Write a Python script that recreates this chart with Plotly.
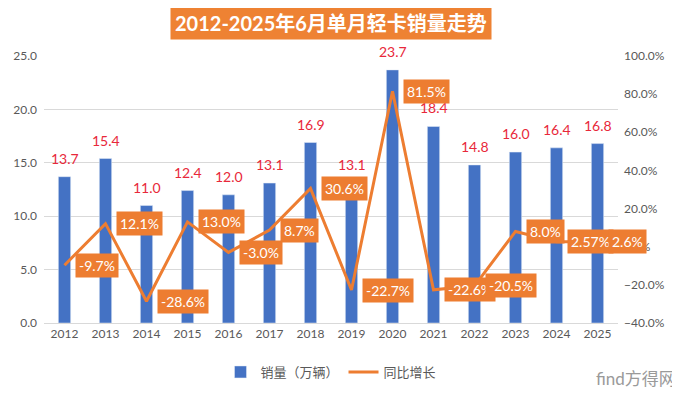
import plotly.graph_objects as go

years = ["2012", "2013", "2014", "2015", "2016", "2017", "2018",
         "2019", "2020", "2021", "2022", "2023", "2024", "2025"]
sales = [13.7, 15.4, 11.0, 12.4, 12.0, 13.1, 16.9, 13.1, 23.7, 18.4, 14.8, 16.0, 16.4, 16.8]
growth = [-9.7, 12.1, -28.6, 13.0, -3.0, 8.7, 30.6, -22.7, 81.5, -22.6, -20.5, 8.0, 2.57, 2.6]
growth_labels = ["-9.7%", "12.1%", "-28.6%", "13.0%", "-3.0%", "8.7%", "30.6%",
                 "-22.7%", "81.5%", "-22.6%", "-20.5%", "8.0%", "2.57%", "2.6%"]

BLUE = "#4472C4"
ORANGE = "#ED7D31"
GRAY = "#595959"
FONT = "Lato, 'Noto Sans CJK SC', sans-serif"

W, H = 672, 385
L, R, T, B = 36, 62, 48, 70
PW, PH = W - L - R, H - T - B

fig = go.Figure()
fig.add_trace(go.Bar(x=years, y=sales, name="销量（万辆）", marker_color=BLUE,
                     yaxis="y"))
fig.add_trace(go.Scatter(x=years, y=growth, name="同比增长", mode="lines",
                         line=dict(color=ORANGE, width=3), yaxis="y2"))

annotations = []
for i, v in enumerate(sales):
    annotations.append(dict(x=i, y=v, xref="x", yref="y", text=f"{v:.1f}",
                            showarrow=False, yanchor="bottom", yshift=8,
                            font=dict(color="#E8283A", size=14, family=FONT)))
for i, (g, lab) in enumerate(zip(growth, growth_labels)):
    annotations.append(dict(x=i, y=g, xref="x", yref="y2", text=lab,
                            showarrow=False, xanchor="left", yanchor="middle",
                            xshift=10, bgcolor=ORANGE, borderpad=3,
                            font=dict(color="white", size=14, family=FONT)))
annotations.append(dict(x=0.5, y=1 + (T - 15) / PH, xref="paper", yref="paper",
                        yanchor="middle",
                        text="<b>2012-2025年6月单月轻卡销量走势</b>",
                        showarrow=False, bgcolor="#EE8233", borderpad=4,
                        font=dict(color="white", size=20, family=FONT)))
annotations.append(dict(x=(W - 2 - L) / PW, y=(H - B - 370) / PH,
                        xref="paper", yref="paper", xanchor="right",
                        yanchor="middle",
                        text="find方得网", showarrow=False,
                        font=dict(color="#9a9a9a", size=17, family=FONT)))

fig.update_layout(
    width=W, height=H,
    margin=dict(l=L, r=R, t=T, b=B, autoexpand=False),
    paper_bgcolor="white", plot_bgcolor="white",
    font=dict(family=FONT, color=GRAY, size=12),
    bargap=0.7,
    showlegend=True,
    legend=dict(orientation="h", x=0.5, xanchor="center",
                y=-(364 - (H - B)) / PH, yanchor="middle",
                font=dict(size=13, color=GRAY), traceorder="normal"),
    xaxis=dict(type="category", range=[-0.5, len(years) - 0.5],
               showgrid=False, ticks="", showline=True,
               linecolor="#D9D9D9", tickfont=dict(size=12, color=GRAY),
               automargin=False),
    yaxis=dict(range=[0, 25], dtick=5, tickformat=".1f", showgrid=True,
               gridcolor="#D9D9D9", zeroline=False, ticks="",
               ticklabelstandoff=6,
               tickfont=dict(size=12, color=GRAY), automargin=False),
    yaxis2=dict(range=[-40, 100], dtick=20, tickformat=".1f", ticksuffix="%",
                overlaying="y", side="right", showgrid=False, zeroline=False,
                ticklabelstandoff=5,
                tickfont=dict(size=12, color=GRAY), automargin=False),
    annotations=annotations,
)

fig.write_html("out.html")
